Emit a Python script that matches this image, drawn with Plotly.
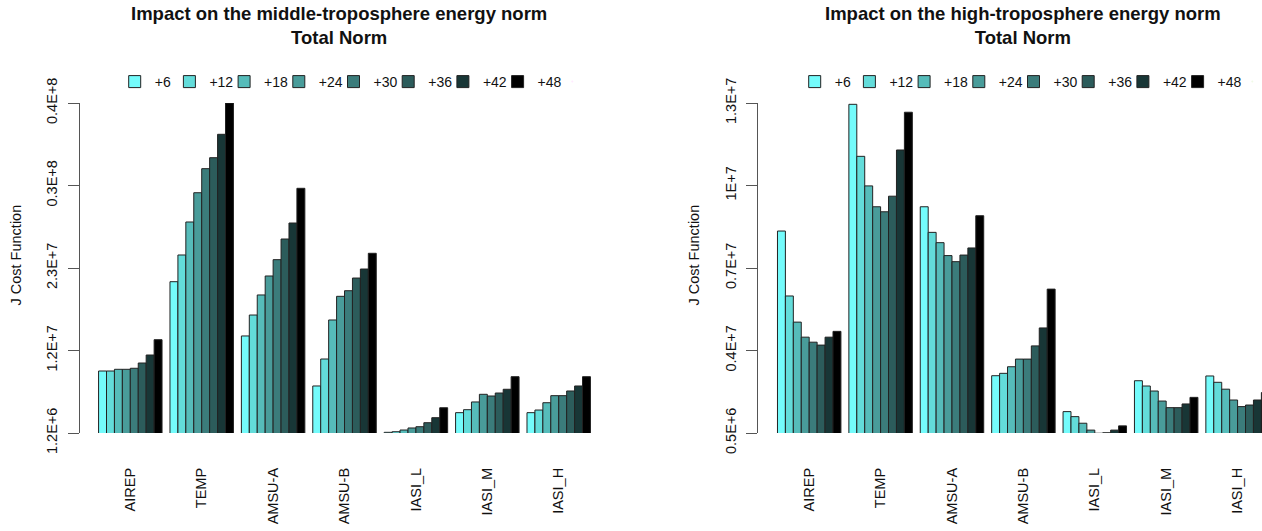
import plotly.graph_objects as go

W, H = 1262, 531

categories = ["AIREP", "TEMP", "AMSU-A", "AMSU-B", "IASI_L", "IASI_M", "IASI_H"]
lead_labels = ["+6", "+12", "+18", "+24", "+30", "+36", "+42", "+48"]
colors = ["#74FBFB", "#63DCDA", "#56BCBA", "#499C9A", "#3B7C7B", "#2C5C5B", "#183636", "#000000"]

# values in units of 1e6, one list per category, ordered by lead time (+6 ... +48)
mid_AIREP = [8.49, 8.49, 8.69, 8.69, 8.81, 9.43, 10.37, 12.17]
mid_TEMP = [18.99, 22.13, 26.01, 29.45, 32.28, 33.57, 36.32, 40.0]
mid_AMSUA = [12.61, 15.07, 17.43, 19.66, 21.58, 24.01, 25.89, 29.97]
mid_AMSUB = [6.73, 9.90, 14.49, 17.27, 17.93, 19.42, 20.48, 22.33]
mid_IASIL = [1.28, 1.35, 1.55, 1.79, 1.94, 2.41, 3.00, 4.17]
mid_IASIM = [3.59, 3.94, 4.85, 5.75, 5.55, 5.90, 6.34, 7.82]
mid_IASIH = [3.59, 3.90, 4.76, 5.59, 5.59, 6.14, 6.73, 7.82]

high_AIREP = [8.15, 5.69, 4.70, 4.13, 3.94, 3.83, 4.13, 4.35]
high_TEMP = [12.95, 10.98, 9.86, 9.07, 8.88, 9.47, 11.22, 12.65]
high_AMSUA = [9.07, 8.10, 7.71, 7.22, 6.99, 7.24, 7.51, 8.73]
high_AMSUB = [2.67, 2.76, 3.01, 3.30, 3.30, 3.80, 4.48, 5.95]
high_IASIL = [1.31, 1.12, 0.87, 0.61, 0.49, 0.51, 0.61, 0.77]
high_IASIM = [2.48, 2.28, 2.09, 1.71, 1.46, 1.46, 1.60, 1.85]
high_IASIH = [2.66, 2.42, 2.16, 1.75, 1.50, 1.56, 1.75, 2.03]

mid_ticks = [1.2, 10.9, 20.6, 30.3, 40.0]
mid_ticktext = ["1.2E+6", "1.2E+7", "2.3E+7", "0.3E+8", "0.4E+8"]
high_ticks = [0.5, 3.625, 6.75, 9.875, 13.0]
high_ticktext = ["0.5E+6", "0.4E+7", "0.7E+7", "1E+7", "1.3E+7"]

mid_by_cat = [mid_AIREP, mid_TEMP, mid_AMSUA, mid_AMSUB, mid_IASIL, mid_IASIM, mid_IASIH]
high_by_cat = [high_AIREP, high_TEMP, high_AMSUA, high_AMSUB, high_IASIL, high_IASIM, high_IASIH]

FONT = "Liberation Sans, Arial, sans-serif"
fig = go.Figure()
for panel, (data, xa, ya, lg) in enumerate([(mid_by_cat, "x", "y", "legend"),
                                             (high_by_cat, "x2", "y2", "legend2")]):
    for i, lab in enumerate(lead_labels):
        fig.add_trace(go.Bar(
            x=categories, y=[c[i] for c in data], name=lab,
            marker=dict(color=colors[i], line=dict(color="#222222", width=1)),
            xaxis=xa, yaxis=ya, legend=lg, hoverinfo="x+y+name",
        ))
    # blank, invisible spacer entry so the last legend label is not clipped
    fig.add_trace(go.Scatter(
        x=[categories[0]], y=[None], name=" ", mode="markers", xaxis=xa, yaxis=ya, legend=lg,
        hoverinfo="skip", marker=dict(opacity=0, size=1),
    ))

def px(p):
    return p / W

def py(p):
    return 1 - p / H

ydom = [py(433), py(103)]
xaxis_common = dict(type="category", showline=False, showgrid=False, zeroline=False,
                    ticks="", tickangle=-90, ticklabelstandoff=31, automargin=False,
                    tickfont=dict(family=FONT, size=14.5, color="#111111"), fixedrange=True)
yaxis_common = dict(showline=True, linecolor="#555555", linewidth=1, ticks="outside", ticklen=11,
                    tickcolor="#555555", tickangle=-90, showgrid=False, zeroline=False,
                    ticklabelstandoff=5, automargin=False,
                    tickfont=dict(family=FONT, size=14.5, color="#111111"), fixedrange=True,
                    domain=ydom)

legend_common = dict(orientation="h", entrywidth=9.7, entrywidthmode="pixels",
                     font=dict(family=FONT, size=14, color="#111111"),
                     bgcolor="rgba(0,0,0,0)", yanchor="middle", xanchor="left",
                     traceorder="normal", itemclick=False, itemdoubleclick=False)

fig.update_layout(
    width=W, height=H, autosize=False,
    margin=dict(l=0, r=0, t=0, b=0, autoexpand=False),
    paper_bgcolor="white", plot_bgcolor="white",
    barmode="group", bargap=1/9, bargroupgap=0,
    showlegend=True,
    xaxis=dict(domain=[px(80), px(597)], range=[-0.7045, 6.536], anchor="y", **xaxis_common),
    yaxis=dict(range=[1.2, 40.0], tickvals=mid_ticks, ticktext=mid_ticktext, anchor="x", **yaxis_common),
    xaxis2=dict(domain=[px(758.3), 1.0], range=[-0.7129, 6.342], anchor="y2", **xaxis_common),
    yaxis2=dict(range=[0.5, 13.0], tickvals=high_ticks, ticktext=high_ticktext, anchor="x2", **yaxis_common),
    legend=dict(x=px(114.7), y=py(82), **legend_common),
    legend2=dict(x=px(794.7), y=py(82), **legend_common),
    annotations=[
        dict(text="<b>Impact on the middle-troposphere energy norm<br>Total Norm</b>",
             x=px(338.5), y=py(26), xref="paper", yref="paper", showarrow=False,
             xanchor="center", yanchor="middle", font=dict(family=FONT, size=18.5, color="#111111")),
        dict(text="<b>Impact on the high-troposphere energy norm<br>Total Norm</b>",
             x=px(1023), y=py(26), xref="paper", yref="paper", showarrow=False,
             xanchor="center", yanchor="middle", font=dict(family=FONT, size=18.5, color="#111111")),
        dict(text="J Cost Function", textangle=-90, x=px(15), y=py(255.5), xref="paper", yref="paper",
             showarrow=False, xanchor="center", yanchor="middle",
             font=dict(family=FONT, size=14.5, color="#111111")),
        dict(text="J Cost Function", textangle=-90, x=px(693), y=py(255.5), xref="paper", yref="paper",
             showarrow=False, xanchor="center", yanchor="middle",
             font=dict(family=FONT, size=14.5, color="#111111")),
    ],
)

fig.write_html("out.html", config={"displayModeBar": False},
               post_script="document.body.style.margin='0';document.body.style.overflow='hidden';")
